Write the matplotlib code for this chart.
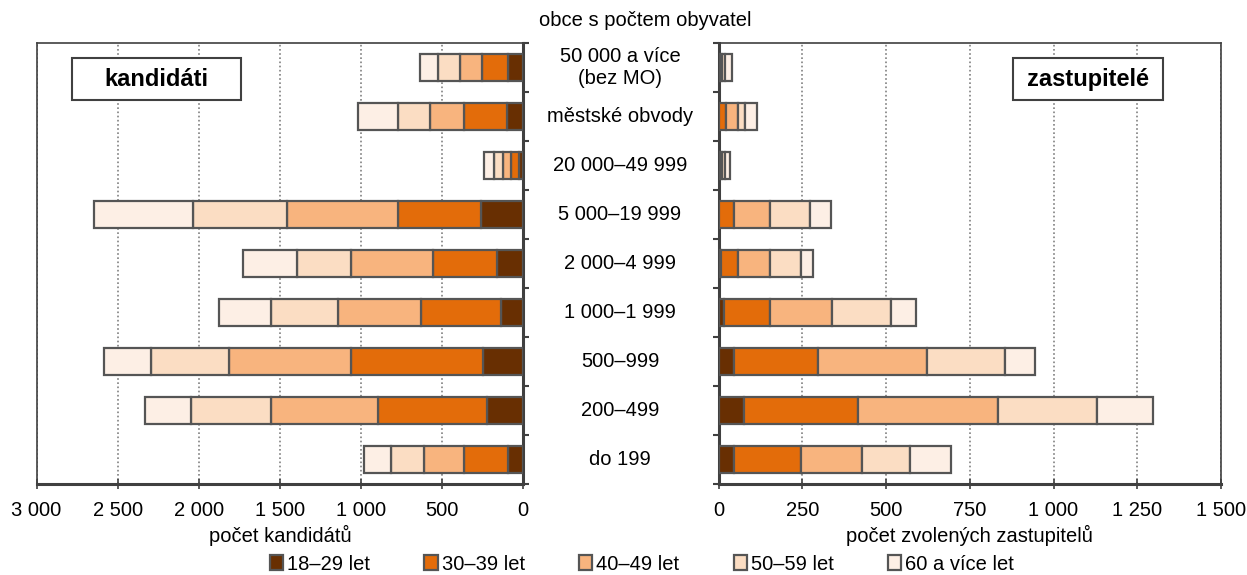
import numpy as np
import matplotlib.pyplot as plt
from matplotlib.patches import Rectangle
from matplotlib.transforms import blended_transform_factory

plt.rcParams['font.family'] = ['Liberation Sans', 'DejaVu Sans']

# kategorie obci (shora dolu)
kategorie = ['50 000 a více\n(bez MO)', 'městské obvody', '20 000–49 999',
             '5 000–19 999', '2 000–4 999', '1 000–1 999', '500–999',
             '200–499', 'do 199']
skupiny = ['18–29 let', '30–39 let', '40–49 let', '50–59 let', '60 a více let']

# pocet kandidatu podle veku
kand_18_29 = [92, 102, 28, 262, 164, 139, 250, 225, 92]
kand_30_39 = [160, 261, 50, 508, 394, 493, 813, 668, 271]
kand_40_49 = [138, 212, 49, 687, 505, 507, 749, 662, 247]
kand_50_59 = [133, 195, 52, 581, 332, 416, 482, 493, 207]
kand_60 = [113, 246, 63, 605, 335, 323, 288, 286, 162]

# pocet zvolenych zastupitelu podle veku
zast_18_29 = [1, 2, 1, 2, 8, 16, 47, 76, 47]
zast_30_39 = [3, 20, 3, 45, 51, 137, 250, 341, 198]
zast_40_49 = [7, 35, 5, 106, 94, 186, 324, 418, 184]
zast_50_59 = [9, 23, 9, 120, 92, 175, 234, 294, 144]
zast_60 = [21, 35, 15, 62, 36, 77, 90, 167, 120]

barvy = ['#682F02', '#E36C0A', '#F8B47E', '#FBDDC3', '#FDEFE5']
okraj = '#555555'
spina = '#404040'
fs = 14.5

W, H = 1247, 575
fig = plt.figure(figsize=(W / 100, H / 100), dpi=100)

bottom = (H - 484) / H
height = 441 / H
ax_l = fig.add_axes([36.5 / W, bottom, 486.8 / W, height])
ax_r = fig.add_axes([718.5 / W, bottom, 502.5 / W, height])

y = np.arange(len(kategorie))


def kresli(ax, serie):
    levo = np.zeros(len(kategorie))
    bars = []
    for vals, c, lab in zip(serie, barvy, skupiny):
        b = ax.barh(y, vals, left=levo, height=0.57, color=c, edgecolor=okraj,
                    linewidth=1.6, label=lab, zorder=3)
        bars.append(b)
        levo = levo + np.array(vals)
    ax.set_ylim(len(kategorie) - 0.5, -0.5)
    ax.set_yticks(np.arange(-0.5, len(kategorie) + 0.5, 1))
    ax.set_yticklabels([])
    ax.grid(axis='x', color='#808080', linestyle=(0, (1, 1.5)), linewidth=1.2, zorder=0)
    for s in ax.spines.values():
        s.set_color(spina)
        s.set_linewidth(1.2)
    ax.tick_params(axis='y', length=4, width=1.5, color=spina)
    ax.tick_params(axis='x', direction='inout', length=7, width=1.2, color=spina,
                   labelsize=fs, pad=9)
    return bars


def fmt(v):
    return f'{int(v):,}'.replace(',', ' ')


# levy panel - kandidati
handles = kresli(ax_l, [kand_18_29, kand_30_39, kand_40_49, kand_50_59, kand_60])
ax_l.set_xlim(3000, 0)
tl = np.arange(0, 3001, 500)
ax_l.set_xticks(tl)
ax_l.set_xticklabels([fmt(v) for v in tl])
ax_l.yaxis.tick_right()
ax_l.spines['right'].set_linewidth(2.2)
ax_l.spines['bottom'].set_linewidth(2.2)
ax_l.set_xlabel('počet kandidátů', fontsize=fs, labelpad=3)

# pravy panel - zastupitele
kresli(ax_r, [zast_18_29, zast_30_39, zast_40_49, zast_50_59, zast_60])
ax_r.set_xlim(0, 1500)
tr = np.arange(0, 1501, 250)
ax_r.set_xticks(tr)
ax_r.set_xticklabels([fmt(v) for v in tr])
ax_r.spines['left'].set_linewidth(2.2)
ax_r.spines['bottom'].set_linewidth(2.2)
ax_r.set_xlabel('počet zvolených zastupitelů', fontsize=fs, labelpad=3)

# popisky kategorii uprostred
tr_mid = blended_transform_factory(fig.transFigure, ax_l.transData)
for i, k in enumerate(kategorie):
    fig.text(620 / W, i, k, transform=tr_mid, ha='center', va='center',
             fontsize=fs, linespacing=1.2)
fig.text(645 / W, 1 - 20 / H, 'obce s počtem obyvatel', ha='center', va='center',
         fontsize=fs)

# ramecky s nadpisy
for ax, txt, x0, w in [(ax_l, 'kandidáti', (72 - 36.5) / 486.8, 169 / 486.8),
                       (ax_r, 'zastupitelé', (1013 - 718.5) / 502.5, 150 / 502.5)]:
    ax.add_patch(Rectangle((x0, 0.8707), w, 0.0952, transform=ax.transAxes,
                           facecolor='white', edgecolor=spina, linewidth=1.5,
                           zorder=5, clip_on=False))
    ax.text(x0 + w / 2, 0.918, txt, transform=ax.transAxes, ha='center', va='center',
            fontsize=17, fontweight='bold', zorder=6)

# legenda
fig.legend(handles=handles, labels=skupiny, loc='center', bbox_to_anchor=(642 / W, 1 - 564 / H),
           ncol=5, frameon=False, fontsize=fs, handlelength=0.65, handleheight=0.75,
           handletextpad=0.2, columnspacing=2.7, borderaxespad=0)

plt.savefig('out.png', dpi=100)
